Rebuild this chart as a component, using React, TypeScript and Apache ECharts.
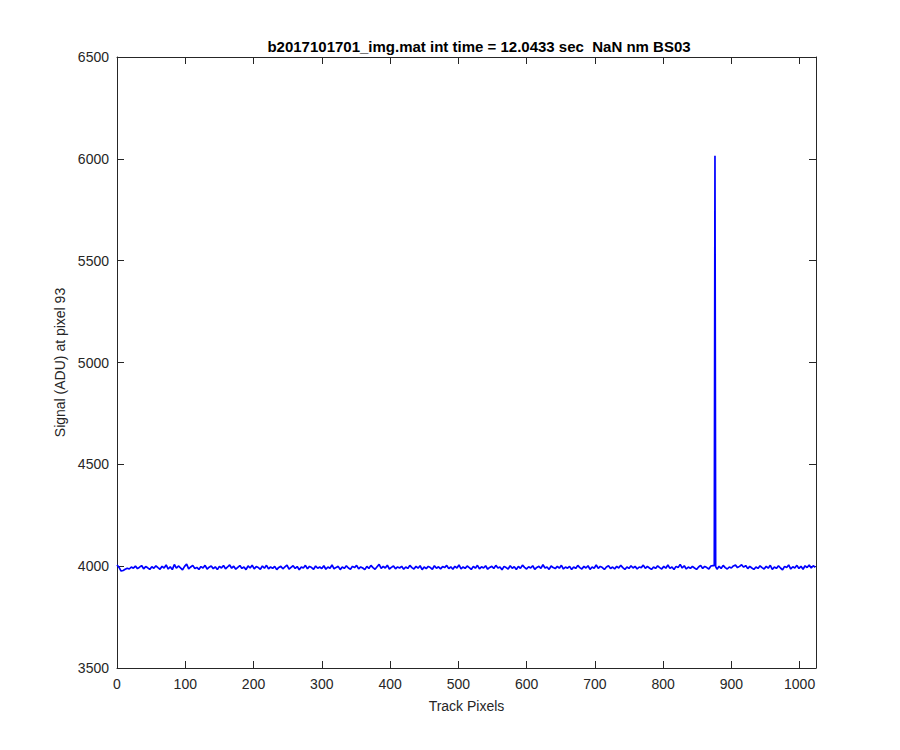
import React, { useEffect, useRef } from "react";
import * as echarts from "echarts";

const titleText = "b2017101701_img.mat int time = 12.0433 sec  NaN nm BS03";
const xName = "Track Pixels";
const yName = "Signal (ADU) at pixel 93";
const xStep = 3;
const signal = [
  4006, 3994, 3976, 3979, 3985, 3990, 3986, 3996, 3990, 4000, 3988, 3995, 4003, 3987, 3998, 3992, 3984, 3997, 3990, 4002,
  3993, 3985, 3999, 3991, 4006, 3986, 3997, 3983, 4008, 3990, 4001, 3992, 3982, 3999, 4010, 3987, 3996, 4004, 3989, 3994,
  3984, 3998, 3991, 4004, 3986, 3995, 4001, 3988, 3997, 3983, 3999, 3991, 4003, 3987, 3996, 4006, 3990, 4000, 3985, 3994,
  4003, 3989, 3996, 3983, 4001, 3991, 4005, 3987, 3998, 3993, 3985, 4001, 3990, 4004, 3987, 3996, 3989, 3999, 3983, 3994,
  3999, 3987, 3996, 4005, 3985, 3994, 4002, 3989, 3998, 3982, 3996, 3991, 4004, 3987, 3999, 3993, 3985, 4001, 3990, 3996,
  3988, 4002, 3985, 3996, 3990, 4006, 3987, 3994, 3999, 3983, 3996, 3989, 4002, 3991, 3985, 3999, 3993, 4004, 3987, 3996,
  3991, 3983, 3999, 3989, 4004, 3993, 3985, 3997, 4009, 3989, 3999, 3991, 4005, 3986, 3994, 4001, 3987, 3996, 3991, 3999,
  3985, 3996, 3989, 4004, 3993, 3986, 3999, 3990, 4002, 3983, 3996, 3988, 3999, 3993, 3985, 4002, 3990, 3997, 3987, 3998,
  3993, 4004, 3988, 3997, 3985, 3999, 3991, 4006, 3987, 3996, 3989, 4001, 3993, 3984, 3999, 3990, 4004, 3987, 3997, 3991,
  4002, 3985, 3994, 3999, 3989, 4004, 3991, 3996, 3982, 3999, 3993, 3986, 4002, 3990, 3997, 3984, 3999, 3989, 4005, 3994,
  3986, 3997, 3991, 4002, 3984, 3994, 3999, 3989, 4007, 3991, 3996, 3984, 4001, 3993, 3988, 3999, 3990, 4004, 3986, 3996,
  3990, 3999, 3984, 3996, 3989, 4004, 3993, 3986, 3999, 3991, 4002, 3984, 3996, 3990, 4006, 3989, 3999, 3993, 3984, 3996,
  4002, 3988, 3996, 3986, 3999, 3991, 4004, 3993, 3984, 3996, 3989, 4002, 3991, 3999, 3986, 3996, 3993, 4005, 3989, 3999,
  3991, 3984, 3996, 3989, 4002, 3993, 3986, 3999, 3990, 4006, 3989, 3996, 3984, 3999, 3993, 4009, 3991, 4002, 3986, 3996,
  3989, 3999, 3991, 3984, 3996, 4004, 3989, 3999, 3993, 3986, 4001, 4003, 3996, 3985, 3999, 3989, 4004, 3993, 3986, 3996,
  3991, 4001, 4005, 3993, 3999, 4007, 3995, 4003, 3988, 3999, 3991, 3984, 3996, 3989, 4002, 3993, 3986, 3999, 3990, 4004,
  3984, 3996, 3989, 4002, 3991, 3982, 3999, 3993, 4006, 3986, 3997, 3991, 4004, 3989, 3999, 3985, 4002, 3993, 4006, 3991,
  4002, 3994,
];
const spikeX = [875, 876, 877];
const spikeY = [4003, 6015, 3998];

const FONT = "'Liberation Sans', Arial, Helvetica, sans-serif";
const AX = "#262626";

export default function App() {
  const ref = useRef<HTMLDivElement>(null);
  useEffect(() => {
    if (!ref.current) return;
    const chart = echarts.init(ref.current, undefined, { renderer: "svg" });
    const pts: number[][] = signal
      .map((v, i) => [i * xStep, v])
      .filter((p) => !spikeX.includes(p[0]));
    spikeX.forEach((x, i) => pts.push([x, spikeY[i]]));
    pts.sort((a, b) => a[0] - b[0]);
    const baseX = {
      type: "value",
      min: 0,
      max: 1024,
      interval: 100,
      axisLine: { show: true, onZero: false, lineStyle: { color: AX, width: 1 } },
      axisTick: { show: true, inside: true, length: 7, lineStyle: { color: AX } },
      splitLine: { show: false },
    };
    const baseY = {
      type: "value",
      min: 3500,
      max: 6500,
      interval: 500,
      axisLine: { show: true, onZero: false, lineStyle: { color: AX, width: 1 } },
      axisTick: { show: true, inside: true, length: 7, lineStyle: { color: AX } },
      splitLine: { show: false },
    };
    chart.setOption({
      animation: false,
      backgroundColor: "#ffffff",
      title: {
        text: titleText,
        left: 474,
        top: 34,
        textAlign: "center",
        textStyle: { fontFamily: FONT, fontSize: 15, fontWeight: "bold", color: "#000" },
      },
      grid: { left: 117, right: 84, top: 57, bottom: 82, containLabel: false },
      xAxis: [
        {
          ...baseX,
          position: "bottom",
          name: xName,
          nameLocation: "middle",
          nameGap: 31,
          nameTextStyle: { fontFamily: FONT, fontSize: 14, color: AX },
          axisLabel: {
            fontFamily: FONT,
            fontSize: 14,
            color: AX,
            margin: 9,
            showMaxLabel: false,
            formatter: (v: number) => (v > 1000 ? "" : String(v)),
          },
        },
        { ...baseX, position: "top", axisLabel: { show: false } },
      ],
      yAxis: [
        {
          ...baseY,
          position: "left",
          name: yName,
          nameLocation: "middle",
          nameGap: 47,
          nameTextStyle: { fontFamily: FONT, fontSize: 14, color: AX },
          axisLabel: {
            fontFamily: FONT,
            fontSize: 14,
            color: AX,
            margin: 8,
            formatter: (v: number) => String(v),
          },
        },
        { ...baseY, position: "right", axisLabel: { show: false } },
      ],
      series: [
        {
          type: "line",
          data: pts,
          showSymbol: false,
          symbol: "none",
          lineStyle: { color: "#0000ff", width: 1.7 },
          xAxisIndex: 0,
          yAxisIndex: 0,
        },
      ],
    });
    return () => chart.dispose();
  }, []);
  return <div ref={ref} style={{ width: 900, height: 750, margin: -8 }} />;
}
